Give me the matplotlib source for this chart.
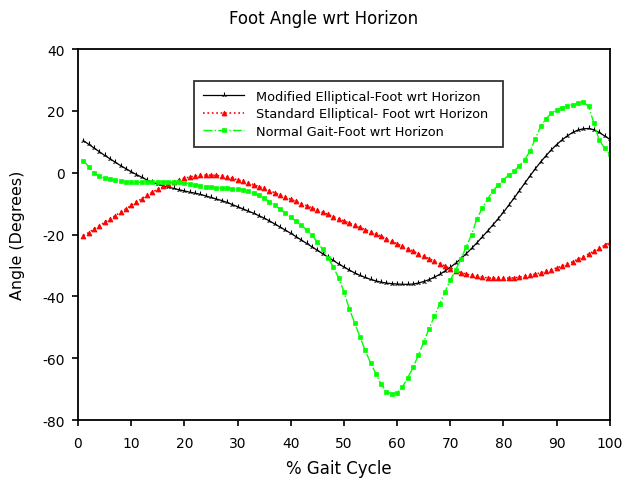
import matplotlib
matplotlib.use("Agg")
import matplotlib.pyplot as plt

plt.rcParams['font.family'] = ['DejaVu Sans']
plt.rcParams['axes.unicode_minus'] = False

gait_pct = list(range(1, 101))

modified_elliptical = [
    10.4, 9.2, 8.0, 6.8, 5.6, 4.5, 3.4, 2.3, 1.3, 0.3,
    -0.6, -1.5, -2.4, -3.1, -3.7, -4.2, -4.7, -5.1, -5.5, -5.9,
    -6.3, -6.6, -7.0, -7.5, -8.0, -8.5, -9.0, -9.6, -10.3, -11.0,
    -11.7, -12.4, -13.1, -13.9, -14.7, -15.6, -16.6, -17.6, -18.6, -19.6,
    -20.7, -21.8, -22.9, -24.0, -25.1, -26.2, -27.3, -28.4, -29.5, -30.5,
    -31.5, -32.4, -33.2, -33.9, -34.5, -35.0, -35.4, -35.7, -35.9, -36.0,
    -36.1, -36.1, -36.0, -35.7, -35.2, -34.6, -33.8, -32.9, -31.8, -30.6,
    -29.3, -27.8, -26.2, -24.5, -22.7, -20.8, -18.9, -16.9, -14.9, -12.8,
    -10.5, -8.2, -5.8, -3.4, -1.0, 1.3, 3.5, 5.5, 7.4, 9.1,
    10.6, 11.9, 13.0, 13.8, 14.2, 14.3, 13.9, 13.0, 11.9, 10.8,
]

standard_elliptical = [
    -20.4, -19.4, -18.3, -17.2, -16.1, -15.0, -13.9, -12.8, -11.7, -10.6,
    -9.5, -8.4, -7.3, -6.3, -5.3, -4.4, -3.6, -2.9, -2.3, -1.8,
    -1.4, -1.1, -0.9, -0.8, -0.8, -0.9, -1.1, -1.4, -1.8, -2.3,
    -2.8, -3.3, -3.9, -4.5, -5.1, -5.8, -6.5, -7.2, -7.9, -8.6,
    -9.3, -10.0, -10.7, -11.4, -12.1, -12.8, -13.5, -14.2, -14.9, -15.6,
    -16.3, -17.0, -17.7, -18.4, -19.1, -19.8, -20.6, -21.4, -22.2, -23.0,
    -23.8, -24.6, -25.4, -26.2, -27.0, -27.8, -28.6, -29.4, -30.2, -31.0,
    -31.7, -32.3, -32.8, -33.2, -33.5, -33.8, -34.0, -34.1, -34.2, -34.2,
    -34.1, -34.0, -33.8, -33.5, -33.2, -32.8, -32.4, -31.9, -31.4, -30.8,
    -30.2, -29.5, -28.8, -28.0, -27.2, -26.3, -25.4, -24.5, -23.5, -22.5,
]

normal_gait = [
    3.9, 2.0, 0.0, -1.2, -1.8, -2.2, -2.5, -2.7, -2.9, -3.0,
    -3.1, -3.1, -3.1, -3.1, -3.1, -3.0, -3.0, -3.0, -3.1, -3.3,
    -3.6, -3.9, -4.2, -4.5, -4.7, -4.9, -5.0, -5.1, -5.2, -5.3,
    -5.5, -5.9, -6.5, -7.3, -8.3, -9.4, -10.6, -11.8, -13.1, -14.4,
    -15.7, -17.0, -18.5, -20.3, -22.4, -24.8, -27.5, -30.5, -34.0, -38.5,
    -44.0, -48.5, -53.0, -57.5, -61.5, -65.0, -68.5, -70.8, -71.6, -71.2,
    -69.3, -66.3, -63.0, -59.0, -54.8, -50.5, -46.5, -42.5, -38.5, -34.8,
    -31.5, -28.0, -24.0, -20.0, -15.0, -11.5, -8.5, -6.0, -4.0, -2.3,
    -0.8, 0.6, 2.2, 4.2, 7.0, 11.0, 15.0, 17.5, 19.2, 20.4,
    21.0, 21.6, 22.0, 22.4, 22.8, 21.5, 16.0, 10.5, 8.0, 6.0,
]

labels = [
    "Modified Elliptical-Foot wrt Horizon",
    "Standard Elliptical- Foot wrt Horizon",
    "Normal Gait-Foot wrt Horizon",
]
x_ticks = [0, 10, 20, 30, 40, 50, 60, 70, 80, 90, 100]
y_ticks = [-80, -60, -40, -20, 0, 20, 40]

fig = plt.figure(figsize=(6.3, 4.81), dpi=100)
ax = fig.add_axes([0.1238, 0.1247, 0.8442, 0.7713])

ax.plot(gait_pct, modified_elliptical, color='black', lw=0.9, marker='2',
        ms=4, mew=0.8, label=labels[0])
ax.plot(gait_pct, standard_elliptical, color='#ff0000', lw=1.2, ls=':',
        marker='^', ms=3.5, mew=0.6, label=labels[1])
ax.plot(gait_pct, normal_gait, color='#00ff00', lw=1.0, ls='-.',
        marker='s', ms=3.2, mew=0.5, label=labels[2])

ax.set_xlim(0, 100)
ax.set_ylim(-80, 40)
ax.set_xticks(x_ticks)
ax.set_yticks(y_ticks)
ax.tick_params(axis='both', labelsize=10, direction='out', length=4.5, width=1.2)
ax.tick_params(axis='y', pad=5)
ax.tick_params(axis='x', pad=7)
for s in ax.spines.values():
    s.set_linewidth(1.3)

fig.text(324 / 630, 1 - 19 / 481, "Foot Angle wrt Horizon", fontsize=12,
         ha='center', va='center')
ax.set_xlabel("% Gait Cycle", fontsize=12)
ax.xaxis.set_label_coords(0.49, -0.106)
ax.set_ylabel("Angle (Degrees)", fontsize=11.4)
ax.yaxis.set_label_coords(-0.0996, 0.5)

leg = ax.legend(loc='upper left', bbox_to_anchor=(0.218, 0.736, 0.581, 0.178),
                mode='expand', fontsize=9.3, frameon=True, fancybox=False,
                handlelength=3.2, handletextpad=0.9,
                borderpad=0.7, labelspacing=0.35, borderaxespad=0)
leg.get_frame().set_edgecolor('black')
leg.get_frame().set_linewidth(1.3)

fig.savefig("out.png", dpi=100)
